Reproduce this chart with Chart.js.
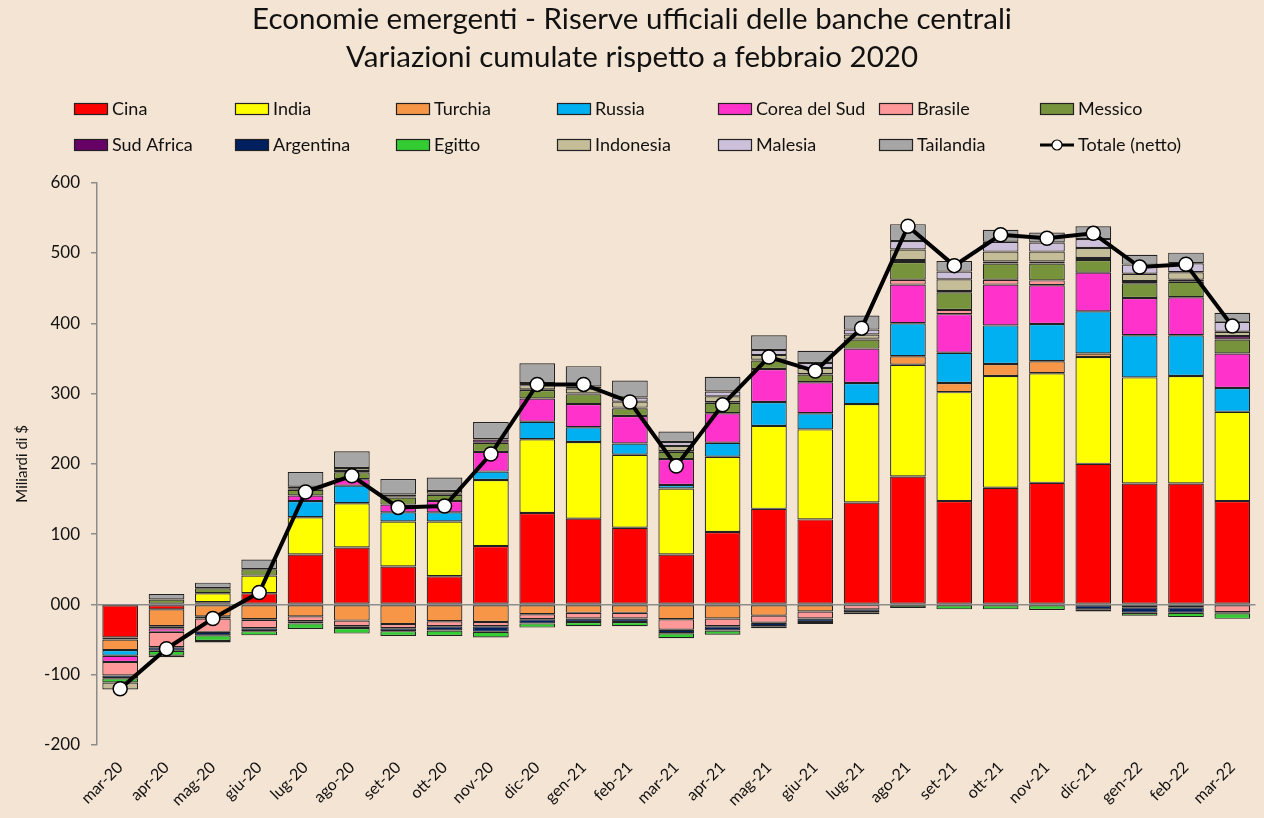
<!DOCTYPE html>
<html lang="it">
<head>
<meta charset="utf-8">
<title>Riserve ufficiali - economie emergenti</title>
<script src="https://cdn.jsdelivr.net/npm/chart.js@4.4.1/dist/chart.umd.min.js"></script>
<style>
  html, body { margin: 0; padding: 0; background: #F4E4D4; }
  #box { width: 1264px; height: 818px; }
</style>
</head>
<body>
<div id="box"><canvas id="grafico" width="1264" height="818"></canvas></div>
<script>
const mesi = ["mar-20", "apr-20", "mag-20", "giu-20", "lug-20", "ago-20", "set-20", "ott-20", "nov-20", "dic-20",
  "gen-21", "feb-21", "mar-21", "apr-21", "mag-21", "giu-21", "lug-21", "ago-21", "set-21", "ott-21",
  "nov-21", "dic-21", "gen-22", "feb-22", "mar-22"];

// miliardi di dollari, variazione cumulata da febbraio 2020
const cina      = [-47, -7, 3, 16, 71, 81, 54, 40, 83, 130, 122, 109, 71, 103, 136, 121, 145, 182, 147, 166, 173, 200, 172, 172, 147];
const india     = [-3, 0, 13, 25, 53, 63, 64, 78, 94, 105, 109, 104, 94, 107, 118, 128, 140, 159, 155, 159, 156, 152, 151, 153, 127];
const turchia   = [-15, -24, -17, -21, -17, -23, -28, -24, -25, -14, -12, -12, -21, -20, -16, -10, -1, 12, 13, 17, 17, 5, 0, 0, 0];
const russia    = [-8, -3, -3, -1, 23, 25, 13, 13, 12, 25, 21, 16, 5, 20, 34, 23, 30, 47, 43, 55, 53, 60, 60, 58, 34];
const corea     = [-9, -5, 0, 0, 8, 9, 11, 16, 28, 33, 33, 39, 37, 42, 47, 44, 49, 55, 55, 58, 55, 55, 53, 54, 49];
const brasile   = [-19, -22, -19, -12, -7, -8, -6, -7, -6, -7, -8, -8, -15, -11, -10, -10, -6, 7, 6, 7, 7, 0, -4, -4, -11];
const messico   = [0, 7, 7, 9, 8, 10, 10, 9, 13, 12, 14, 11, 10, 15, 12, 11, 13, 25, 25, 23, 24, 18, 21, 22, 20];
const sudAfrica = [0, 0, 0, 0, 1.5, 2, 2, 1.5, 4.5, 1, 1, 1, 1, 1, 1, 1, 1, 3, 2, 3, 3, 3, 3, 3, 5];
const argentina = [-4, -5, -5, -4, -3, -2.5, -4, -6, -8, -6, -5, -5, -5, -6, -5, -5, -4, 0, 0, 0, 0, -7, -8, -8, -1.5];
const egitto    = [-6, -7, -8, -6, -8, -8, -7, -8, -8, -6, -6, -6, -7, -6, -3, -3, -3, -5, -7, -7, -8, -3, -4, -6, -8];
const indonesia = [-10, -2, -2, 0, 3, 4, 2.5, 4, 1, 6, 7, 8.5, 7.5, 8, 7, 8.5, 6, 15, 16.5, 14, 14, 14, 10.5, 10.5, 6];
const malesia   = [0, 0, 0, 0, 0, 0, 0, 0, 0, 3, 3, 6, 5.5, 7, 7, 7, 7, 12, 11, 14, 13, 13, 13, 13, 14];
const tailandia = [0, 8, 8, 14, 21, 24, 22, 19, 24, 28, 29, 24, 15, 21, 21, 17.5, 20, 24, 15, 17, 14, 18, 14, 15, 13];
const totale    = [-120, -63, -20, 17, 160, 183, 138, 140, 214, 313, 313, 288, 197, 284, 352, 332, 393, 538, 482, 526, 521, 528, 480, 484, 396];

const yTicks = [-200, -100, 0, 100, 200, 300, 400, 500, 600];

const paesi = [
  ["Cina", cina, "#FF0000"],
  ["India", india, "#FFFF00"],
  ["Turchia", turchia, "#F79646"],
  ["Russia", russia, "#00B0F0"],
  ["Corea del Sud", corea, "#FF33CC"],
  ["Brasile", brasile, "#FF9999"],
  ["Messico", messico, "#77933C"],
  ["Sud Africa", sudAfrica, "#660066"],
  ["Argentina", argentina, "#002060"],
  ["Egitto", egitto, "#33CC33"],
  ["Indonesia", indonesia, "#C4BD97"],
  ["Malesia", malesia, "#CCC0DA"],
  ["Tailandia", tailandia, "#A6A6A6"]
];

const datasets = paesi.map(p => ({
  type: "bar",
  label: p[0],
  data: p[1],
  backgroundColor: p[2],
  borderColor: "#222",
  borderWidth: 1.2,
  borderSkipped: false,
  stack: "paesi",
  order: 1,
  categoryPercentage: 1,
  barPercentage: 0.77
}));

datasets.push({
  type: "line",
  label: "Totale (netto)",
  data: totale,
  borderColor: "#000",
  borderWidth: 4,
  pointRadius: 7,
  pointBackgroundColor: "#fff",
  pointBorderColor: "#000",
  pointBorderWidth: 1.5,
  stack: "totale",
  order: 0,
  tension: 0
});

// legenda a griglia 7 colonne x 2 righe, come nell'originale
const legendaGriglia = {
  id: "legendaGriglia",
  afterDraw(chart) {
    const ctx = chart.ctx;
    ctx.save();
    ctx.font = "18px Lato";
    ctx.textBaseline = "middle";
    ctx.textAlign = "left";
    chart.data.datasets.forEach((ds, i) => {
      const col = i % 7;
      const row = Math.floor(i / 7);
      const x = 74 + col * 161;
      const y = 103 + row * 36;
      if (ds.type === "line") {
        ctx.strokeStyle = "#000";
        ctx.lineWidth = 3;
        ctx.beginPath();
        ctx.moveTo(x, y + 6);
        ctx.lineTo(x + 34, y + 6);
        ctx.stroke();
        ctx.beginPath();
        ctx.arc(x + 17, y + 6, 5, 0, Math.PI * 2);
        ctx.fillStyle = "#fff";
        ctx.fill();
        ctx.lineWidth = 1.2;
        ctx.stroke();
      } else {
        ctx.fillStyle = ds.backgroundColor;
        ctx.fillRect(x, y, 34, 12);
        ctx.strokeStyle = "#222";
        ctx.lineWidth = 1.2;
        ctx.strokeRect(x + 0.5, y + 0.5, 33, 11);
      }
      ctx.fillStyle = "#111";
      ctx.fillText(ds.label, x + 38, y + 6.5);
    });
    ctx.restore();
  }
};

new Chart(document.getElementById("grafico"), {
  data: { labels: mesi, datasets: datasets },
  plugins: [legendaGriglia],
  options: {
    responsive: false,
    animation: false,
    layout: { padding: { left: 0, right: 0, top: 0, bottom: 0 } },
    plugins: {
      legend: { display: false },
      tooltip: { enabled: false },
      title: {
        display: true,
        text: ["Economie emergenti - Riserve ufficiali delle banche centrali",
               "Variazioni cumulate rispetto a febbraio 2020"],
        color: "#111",
        font: { family: "Lato", size: 29.5, weight: "normal", lineHeight: 1.3 },
        padding: { top: 0, bottom: 106 }
      }
    },
    scales: {
      x: {
        stacked: true,
        grid: { display: false },
        border: { display: false },
        afterFit(scale) { scale.height = 73; },
        ticks: {
          color: "#111",
          font: { family: "Lato", size: 16 },
          minRotation: 45,
          maxRotation: 45,
          autoSkip: false,
          padding: 5
        }
      },
      y: {
        stacked: true,
        min: -200,
        max: 600,
        afterFit(scale) { scale.width = 97; },
        afterBuildTicks(scale) { scale.ticks = yTicks.map(v => ({ value: v })); },
        border: { display: true, color: "#8c8c8c", width: 1.5 },
        grid: {
          drawOnChartArea: true,
          color: c => (c.tick && c.tick.value === 0 ? "#8c8c8c" : "rgba(0,0,0,0)"),
          lineWidth: 1.5,
          tickLength: 6,
          tickColor: "#8c8c8c"
        },
        ticks: {
          color: "#111",
          font: { family: "Lato", size: 17 },
          padding: 11,
          callback: v => (v === 0 ? "000" : String(v))
        },
        title: {
          display: true,
          text: "Miliardi di $",
          color: "#111",
          font: { family: "Lato", size: 15 },
          padding: { top: 13, bottom: 0 }
        }
      }
    }
  }
});
</script>
</body>
</html>
